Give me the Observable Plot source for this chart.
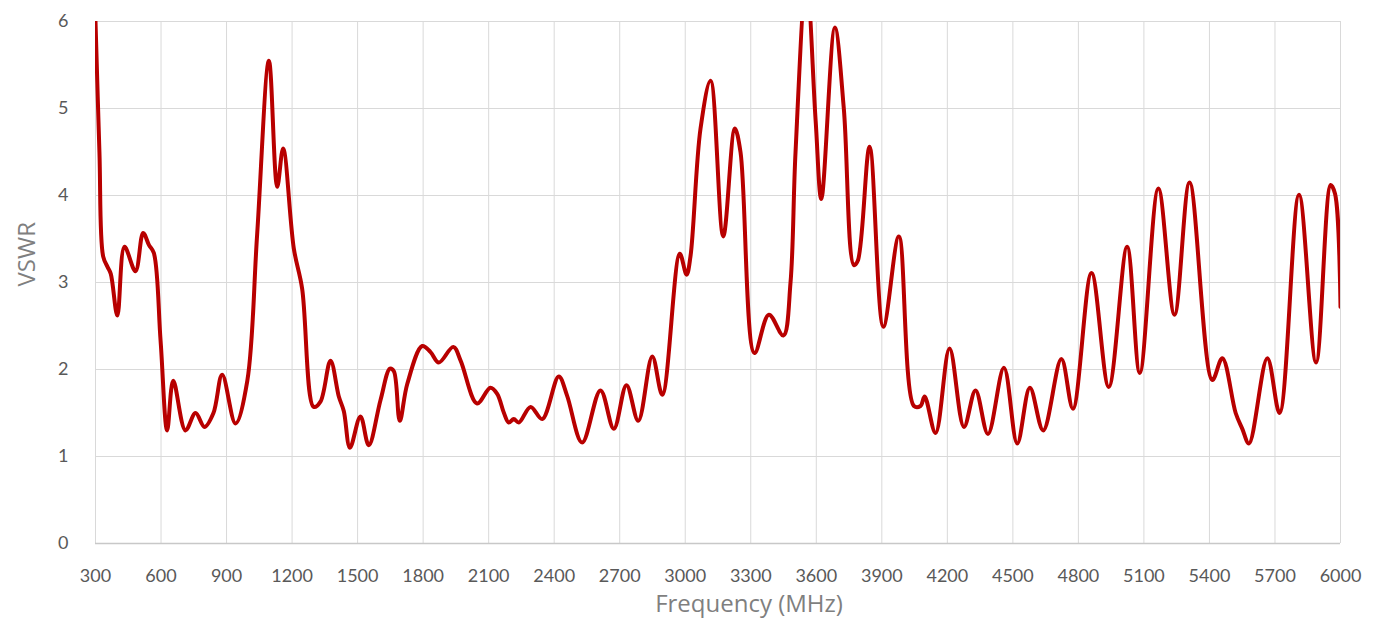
<!DOCTYPE html>
<html>
<head>
<meta charset="utf-8">
<script src="https://cdn.jsdelivr.net/npm/d3@7"></script>
<script src="https://cdn.jsdelivr.net/npm/@observablehq/plot@0.6"></script>
<style>
  html, body { margin: 0; padding: 0; background: #fff; }
  #chart svg { display: block; }
</style>
</head>
<body>
<div id="chart"></div>
<script>
const freq = [300, 318, 335, 355, 370, 400, 433, 483, 518, 545, 567, 598, 628, 656, 712, 758, 799, 840, 880, 941, 995, 1040, 1094, 1132, 1159, 1208, 1246, 1299, 1330, 1376, 1414, 1437, 1465, 1513, 1551, 1605, 1648, 1666, 1693, 1727, 1796, 1834, 1872, 1938, 1972, 2047, 2108, 2139, 2170, 2192, 2215, 2238, 2292, 2345, 2421, 2459, 2528, 2612, 2673, 2731, 2785, 2849, 2895, 2975, 3006, 3024, 3070, 3116, 3174, 3227, 3253, 3317, 3383, 3449, 3482, 3505, 3555, 3597, 3623, 3685, 3726, 3772, 3790, 3844, 3907, 3978, 4047, 4077, 4096, 4146, 4210, 4276, 4329, 4386, 4459, 4520, 4578, 4639, 4722, 4775, 4860, 4939, 5023, 5081, 5166, 5240, 5309, 5413, 5459, 5520, 5550, 5581, 5665, 5721, 5810, 5888, 5955, 5975, 6000];
const vswr = [6.0, 4.5, 3.3, 3.18, 3.1, 2.62, 3.41, 3.13, 3.57, 3.43, 3.34, 2.33, 1.30, 1.87, 1.30, 1.50, 1.34, 1.5, 1.94, 1.38, 1.87, 3.55, 5.55, 4.10, 4.54, 3.39, 2.93, 1.57, 1.63, 2.10, 1.69, 1.52, 1.10, 1.46, 1.13, 1.65, 2.01, 1.98, 1.41, 1.83, 2.27, 2.2, 2.08, 2.26, 2.1, 1.61, 1.79, 1.72, 1.5, 1.39, 1.43, 1.39, 1.57, 1.43, 1.92, 1.7, 1.16, 1.76, 1.32, 1.82, 1.41, 2.15, 1.71, 3.33, 3.09, 3.3, 4.77, 5.32, 3.53, 4.77, 4.5, 2.19, 2.63, 2.39, 3.0, 4.5, 6.5, 4.86, 3.96, 5.93, 5.0, 3.2, 3.25, 4.56, 2.49, 3.53, 1.58, 1.58, 1.69, 1.27, 2.24, 1.34, 1.76, 1.26, 2.02, 1.15, 1.79, 1.30, 2.12, 1.55, 3.11, 1.80, 3.41, 1.96, 4.08, 2.63, 4.15, 1.88, 2.13, 1.5, 1.32, 1.15, 2.13, 1.50, 4.01, 2.08, 4.12, 4.02, 2.72];
const xTicks = [300, 600, 900, 1200, 1500, 1800, 2100, 2400, 2700, 3000, 3300, 3600, 3900, 4200, 4500, 4800, 5100, 5400, 5700, 6000];
const yTicks = [0, 1, 2, 3, 4, 5, 6];
const xLabel = "Frequency (MHz)";
const yLabel = "VSWR";

const data = freq.map((f, i) => ({f, v: vswr[i]}));

const chart = Plot.plot({
  width: 1383,
  height: 626,
  marginLeft: 95,
  marginRight: 43,
  marginTop: 21,
  marginBottom: 83,
  style: {fontFamily: "Lato, 'Open Sans', sans-serif", background: "#fff"},
  x: {domain: [300, 6000]},
  y: {domain: [0, 6]},
  marks: [
    Plot.gridX(xTicks, {stroke: "#d9d9d9", strokeOpacity: 1, strokeWidth: 1}),
    Plot.gridY(yTicks, {stroke: "#d9d9d9", strokeOpacity: 1, strokeWidth: 1}),
    Plot.ruleY([0], {stroke: "#c8c8c8", strokeWidth: 1.5}),
    Plot.axisX(xTicks, {tickSize: 0, tickPadding: 26, label: null, fontSize: 18, color: "#595959", tickFormat: d => String(d)}),
    Plot.axisY(yTicks, {tickSize: 0, tickPadding: 27, label: null, fontSize: 18, color: "#595959", tickFormat: d => String(d)}),
    Plot.line(data, {x: "f", y: "v", curve: "catmull-rom", stroke: "#b80000", strokeWidth: 4, clip: true}),
    Plot.text([xLabel], {text: d => d, frameAnchor: "bottom", dy: 68, dx: 31, fontSize: 24, fontFamily: "'Open Sans', sans-serif", fill: "#7f7f7f"}),
    Plot.text([yLabel], {text: d => d, frameAnchor: "left", dx: -68, dy: 4, rotate: -90, fontSize: 24, fontFamily: "'Open Sans', sans-serif", fill: "#7f7f7f"})
  ]
});
document.getElementById("chart").appendChild(chart);
</script>
</body>
</html>
